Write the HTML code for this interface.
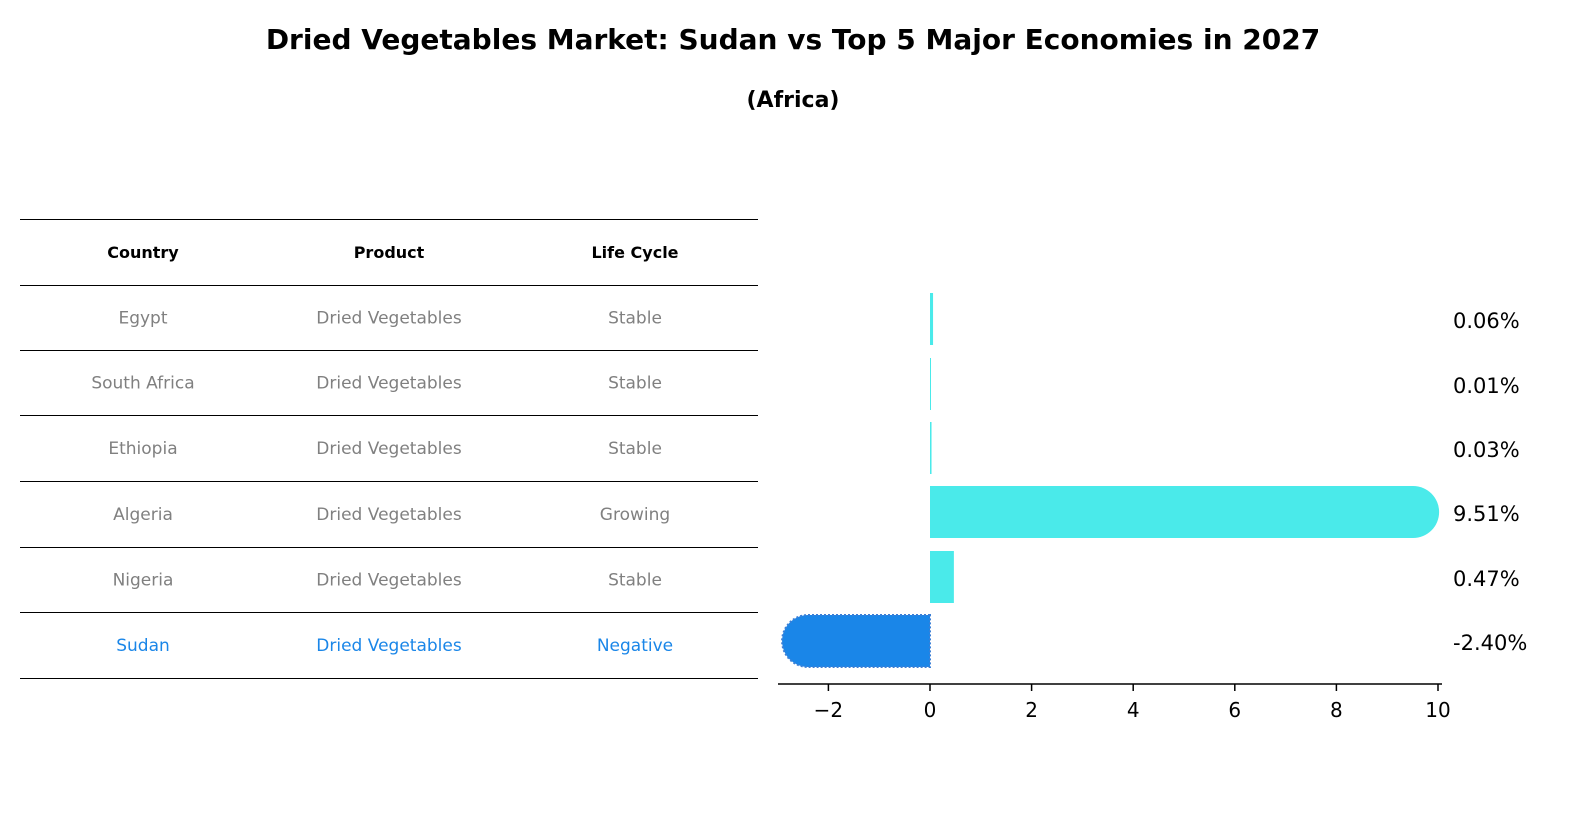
<!DOCTYPE html>
<html><head><meta charset="utf-8"><style>
html,body{margin:0;padding:0;background:#fff;overflow:hidden;width:1596px;height:823px;}
svg{display:block;}
svg text{font-family:"DejaVu Sans","Liberation Sans",sans-serif;}
</style></head><body>
<svg id="c" width="1596" height="823" xmlns="http://www.w3.org/2000/svg">
<text x="793" y="49" text-anchor="middle" font-size="28" font-weight="bold">Dried Vegetables Market: Sudan vs Top 5 Major Economies in 2027</text>
<text x="793" y="107" text-anchor="middle" font-size="22" font-weight="bold">(Africa)</text>
<g id="table"></g>
<g id="bars"></g>
</svg>
<script>
const countries=["Egypt","South Africa","Ethiopia","Algeria","Nigeria","Sudan"];
const products=["Dried Vegetables","Dried Vegetables","Dried Vegetables","Dried Vegetables","Dried Vegetables","Dried Vegetables"];
const lifecycles=["Stable","Stable","Stable","Growing","Stable","Negative"];
const values=[0.06,0.01,0.03,9.51,0.47,-2.40];
const xTicks=[-2,0,2,4,6,8,10];
const NS="http://www.w3.org/2000/svg";
function mk(t,a,p,txt){const e=document.createElementNS(NS,t);for(const k in a)e.setAttribute(k,a[k]);if(txt!==undefined)e.textContent=txt;p.appendChild(e);return e;}
const tb=document.getElementById('table');
const lineY=[219,285,350,415,481,547,612,678];
lineY.forEach(y=>{const l=mk('line',{x1:20,x2:758,y1:y+0.5,y2:y+0.5,stroke:'#000','stroke-width':1},tb);

});
const colX=[143,389,635];
["Country","Product","Life Cycle"].forEach((h,i)=>{const t=mk('text',{x:colX[i],y:258,'text-anchor':'middle','font-size':16,'font-weight':'bold'},tb,h);

});
countries.forEach((c,r)=>{const y=(lineY[r+1]+lineY[r+2])/2+6;const col=c==="Sudan"?"#1a86e8":"#808080";
[c,products[r],lifecycles[r]].forEach((v,i)=>{const t=mk('text',{x:colX[i],y:y,'text-anchor':'middle','font-size':17,fill:col},tb,v);

});});
const bg=document.getElementById('bars');
const x0=930,ppu=50.8;const X=v=>x0+v*ppu;
const centers=[319,384,448,512,577,641];const bh=52,r=26;
values.forEach((v,i)=>{const yc=centers[i];const col=countries[i]==="Sudan"?"#1a86e8":"#4aeaea";
let el;
if(Math.abs(v)>1){const xa=X(0),xb=X(v);
if(v>0)el=mk('path',{d:`M${xa},${yc-bh/2}H${xb}A${r},${r} 0 0 1 ${xb},${yc+bh/2}H${xa}Z`,fill:col},bg);
else el=mk('path',{d:`M${xa},${yc-bh/2}H${xb}A${r},${r} 0 0 0 ${xb},${yc+bh/2}H${xa}Z`,fill:col,stroke:'#3b7fd6','stroke-width':2,'stroke-dasharray':'2,2'},bg);}
else{const w=Math.max(Math.abs(v)*ppu,1);el=mk('rect',{x:v>=0?X(0):X(v),y:yc-bh/2,width:w,height:bh,fill:col},bg);}


const t=mk('text',{x:1453,y:yc+9,'font-size':21},bg,v.toFixed(2)+'%');

});
const ax=mk('line',{x1:778,x2:1442,y1:684,y2:684,stroke:'#000','stroke-width':1.5},bg);


xTicks.forEach(v=>{const tk=mk('line',{x1:X(v),x2:X(v),y1:684,y2:691,stroke:'#000','stroke-width':1.5},bg);


const t=mk('text',{x:X(v),y:717,'text-anchor':'middle','font-size':20},bg,v<0?'\u2212'+Math.abs(v):String(v));

});
</script>
</body></html>
